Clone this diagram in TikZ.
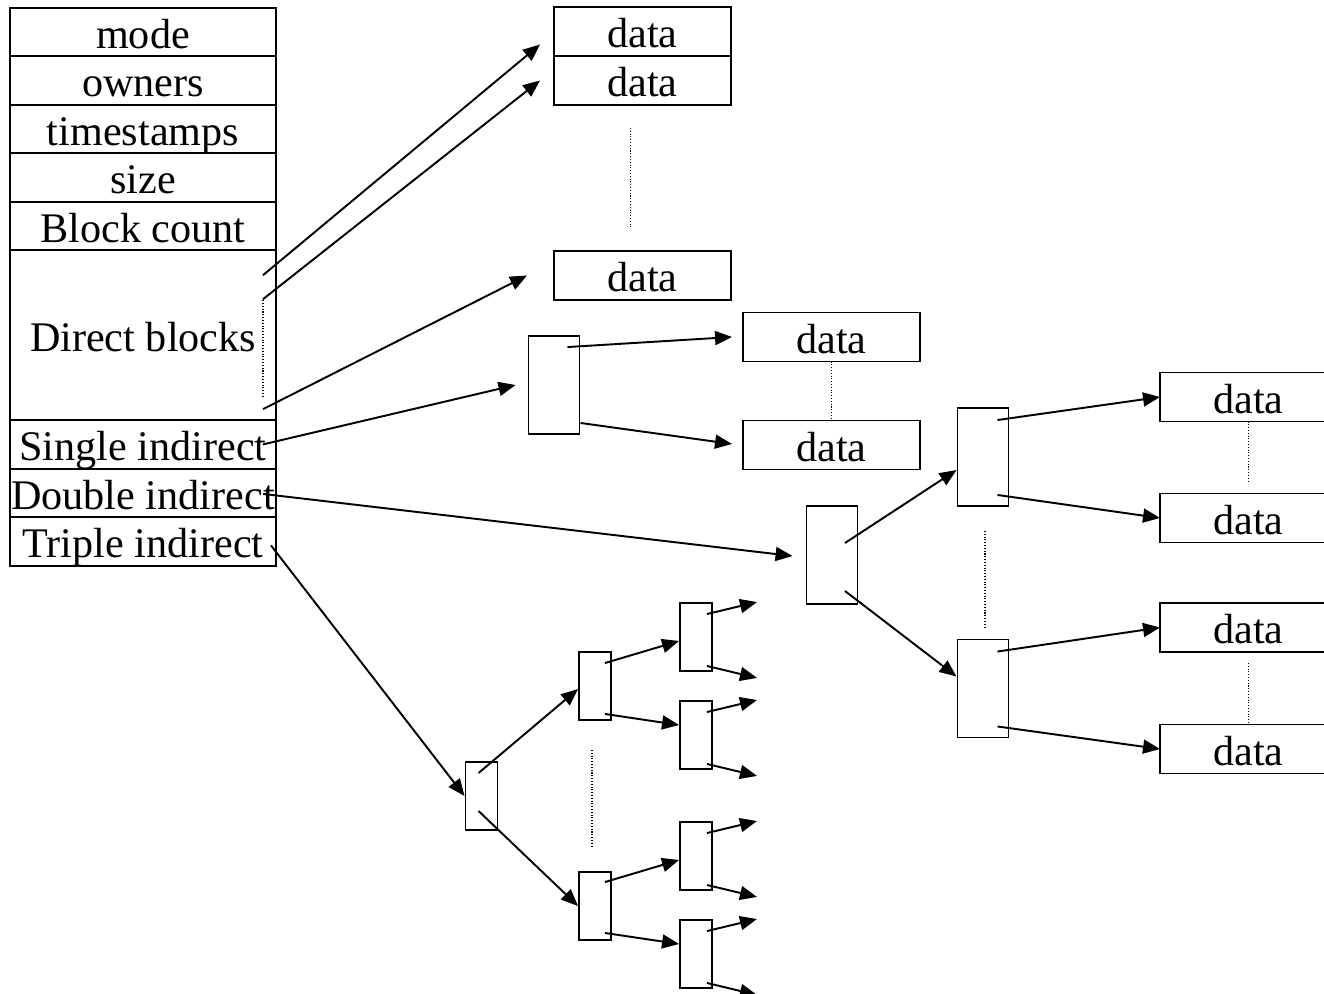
\documentclass[tikz,border=0pt]{standalone}
\usepackage{fontspec}
\setmainfont{Liberation Serif}
\usetikzlibrary{arrows.meta,positioning}
\tikzset{
  cell/.style={draw,line width=1.1pt,minimum width=5.32cm,minimum height=0.97cm,
               inner sep=0pt,outer sep=0pt,text height=0.75cm,text depth=0.1cm,
               font=\fontsize{24}{28}\selectfont},
  datablk/.style={cell,minimum width=3.54cm,minimum height=0.98cm},
  ptrblk/.style={draw,line width=1.1pt,minimum width=1.02cm,minimum height=1.96cm,inner sep=0pt},
  tinyblk/.style={draw,line width=1.1pt,minimum width=0.64cm,minimum height=1.36cm,inner sep=0pt},
  ptr/.style={-{Triangle[length=0.34cm,width=0.28cm]},line width=1.1pt},
  gap/.style={densely dotted,line width=0.6pt},
}
\begin{document}
\begin{tikzpicture}[x=0.02cm,y=-0.02cm]
  \useasboundingbox (0,0) rectangle (1324,993);
  % the inode
  \node[cell] (mode) at (143,32) {mode};
  \node[cell,below=0pt of mode] (owners) {owners};
  \node[cell,below=0pt of owners] (stamps) {timestamps};
  \node[cell,below=0pt of stamps] (size) {size};
  \node[cell,below=0pt of size] (bcount) {Block count};
  \node[cell,below=0pt of bcount,minimum height=3.4cm] (direct) {Direct blocks};
  \node[cell,below=0pt of direct] (single) {Single indirect};
  \node[cell,below=0pt of single] (double) {Double indirect};
  \node[cell,below=0pt of double] (triple) {Triple indirect};
  \draw[gap] ([shift={(-13,50)}]direct.north east) -- ([shift={(-13,-23)}]direct.south east);

  % direct data blocks
  \node[datablk] (d1) at (642.5,31.5) {data};
  \node[datablk,below=0pt of d1] (d2) {data};
  \node[datablk] (d3) at (642.5,275.5) {data};
  \draw[gap] ([shift={(-12,23)}]d2.south) -- ([shift={(-12,-24)}]d3.north);
  \draw[ptr] ([shift={(-13,25)}]direct.north east) -- ([shift={(-14,13)}]d1.west);
  \draw[ptr] ([shift={(-13,49)}]direct.north east) -- ([shift={(-14,0)}]d2.west);
  \draw[ptr] ([shift={(-13,-11)}]direct.south east) -- ([shift={(-27,0)}]d3.west);

  % single indirect
  \node[ptrblk] (sb) at (554,385) {};
  \node[datablk] (d4) at (831.5,337) {data};
  \node[datablk] (d5) at (831.5,445) {data};
  \draw[gap] (d4.south) -- (d5.north);
  \draw[ptr] ([shift={(-13,0)}]single.east) -- ([shift={(-12,0)}]sb.west);
  \draw[ptr] ([shift={(-13,12)}]sb.north east) -- ([shift={(-11,0)}]d4.west);
  \draw[ptr] ([shift={(0,-12)}]sb.south east) -- ([shift={(-11,-1)}]d5.west);

  % double indirect
  \node[ptrblk] (db) at (832,555) {};
  \node[ptrblk] (db1) at (983,457) {};
  \node[ptrblk] (db2) at (983,688.5) {};
  \node[datablk] (d6) at (1248.5,397) {data};
  \node[datablk] (d7) at (1248.5,518) {data};
  \node[datablk] (d8) at (1248.5,627.5) {data};
  \node[datablk] (d9) at (1248.5,749) {data};
  \draw[gap] ([shift={(2,24)}]db1.south) -- ([shift={(2,-11)}]db2.north);
  \draw[gap] (d6.south) -- ([shift={(0,-12)}]d7.north);
  \draw[gap] ([shift={(0,11)}]d8.south) -- ([shift={(0,-2)}]d9.north);
  \draw[ptr] ([shift={(-13,1)}]double.east) -- ([shift={(-13,1)}]db.west);
  \draw[ptr] ([shift={(13,-12)}]db.center) -- ([shift={(0,13)}]db1.west);
  \draw[ptr] ([shift={(13,36)}]db.center) -- ([shift={(0,-12)}]db2.west);
  \draw[ptr] ([shift={(-12,13)}]db1.north east) -- (d6.west);
  \draw[ptr] ([shift={(-12,-12)}]db1.south east) -- (d7.west);
  \draw[ptr] ([shift={(-12,13)}]db2.north east) -- (d8.west);
  \draw[ptr] ([shift={(-12,-12)}]db2.south east) -- (d9.west);

  % triple indirect
  \node[tinyblk] (tb) at (481.5,796) {};
  \node[tinyblk] (tb1) at (595,686) {};
  \node[tinyblk] (tb2) at (595,906) {};
  \foreach \n/\y in {1/637,2/735,3/856,4/954}
    \node[tinyblk] (tl\n) at (696,\y) {};
  \draw[gap] ([shift={(-3,29)}]tb1.south) -- ([shift={(-3,-25)}]tb2.north);
  \draw[ptr] ([shift={(-5,4)}]triple.east) -- (tb.west);
  \draw[ptr] ([shift={(-3,12)}]tb.north) -- ([shift={(0,3)}]tb1.west);
  \draw[ptr] ([shift={(-3,-20)}]tb.south) -- (tb2.west);
  \draw[ptr] ([shift={(-7,12)}]tb1.north east) -- ([shift={(0,4)}]tl1.west);
  \draw[ptr] ([shift={(-7,-7)}]tb1.south east) -- ([shift={(0,-10)}]tl2.west);
  \draw[ptr] ([shift={(-7,11)}]tb2.north east) -- ([shift={(0,4)}]tl3.west);
  \draw[ptr] ([shift={(-7,-8)}]tb2.south east) -- ([shift={(0,-10)}]tl4.west);
  \foreach \n in {1,...,4}{
    \coordinate (tl\n up) at ([shift={(44,0)}]tl\n.north east);
    \coordinate (tl\n dn) at ([shift={(44,6)}]tl\n.south east);
    \draw[ptr] ([shift={(-6,12)}]tl\n.north east) -- (tl\n up);
    \draw[ptr] ([shift={(-6,-6)}]tl\n.south east) -- (tl\n dn);
  }
\end{tikzpicture}
\end{document}
